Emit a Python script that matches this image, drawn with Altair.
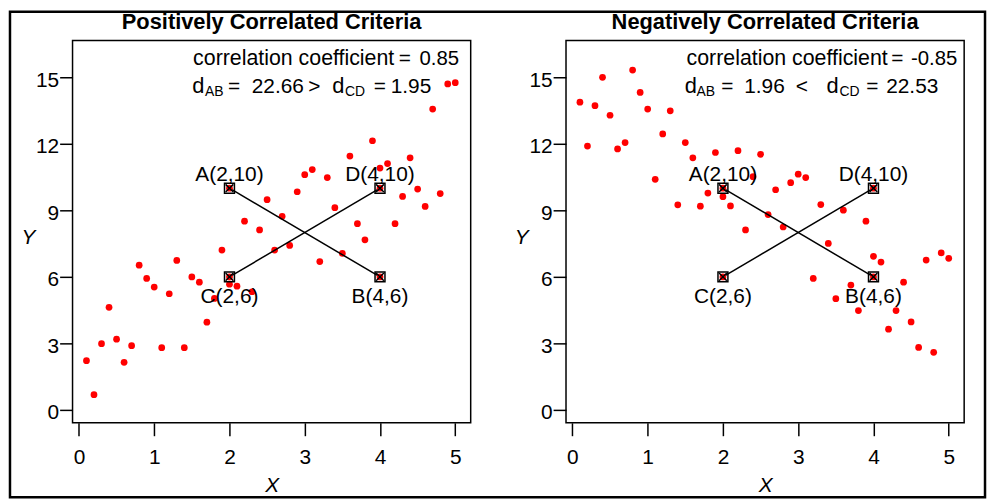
import altair as alt
import pandas as pd

# ---------------- data ----------------
X_VALUES = [0.1, 0.2, 0.3, 0.4, 0.5, 0.6, 0.7, 0.8, 0.9, 1.0,
            1.1, 1.2, 1.3, 1.4, 1.5, 1.6, 1.7, 1.8, 1.9, 2.0,
            2.1, 2.2, 2.3, 2.4, 2.5, 2.6, 2.7, 2.8, 2.9, 3.0,
            3.1, 3.2, 3.3, 3.4, 3.5, 3.6, 3.7, 3.8, 3.9, 4.0,
            4.1, 4.2, 4.3, 4.4, 4.5, 4.6, 4.7, 4.8, 4.9, 5.0]
POS_Y = [2.22, 0.69, 2.99, 4.63, 3.19, 2.15, 2.90, 6.53, 5.93, 5.54,
         2.81, 5.24, 6.74, 2.81, 6.00, 5.76, 3.96, 5.03, 7.21, 5.67,
         5.58, 8.51, 5.33, 8.12, 9.48, 7.21, 8.73, 7.42, 9.84, 10.61,
         10.84, 6.69, 10.48, 9.12, 7.06, 11.45, 8.40, 7.67, 12.14, 10.91,
         11.11, 8.40, 9.63, 11.37, 9.96, 9.18, 13.57, 9.76, 14.70, 14.76]
NEG_Y = [13.88, 11.90, 13.72, 15.00, 13.29, 11.77, 12.06, 15.33, 14.32, 13.57,
         10.40, 12.45, 13.49, 9.25, 12.06, 11.37, 9.19, 9.78, 11.61, 9.62,
         9.20, 11.69, 8.12, 10.52, 11.53, 8.81, 9.93, 8.25, 10.25, 10.63,
         10.48, 5.93, 9.26, 7.51, 5.02, 9.01, 5.63, 4.48, 8.51, 6.93,
         6.67, 3.64, 4.48, 5.76, 3.97, 2.82, 6.76, 2.60, 7.08, 6.84]

KEY_NAMES = ["A(2,10)", "B(4,6)", "C(2,6)", "D(4,10)"]
KEY_X = [2, 4, 2, 4]
KEY_Y = [10, 6, 6, 10]
KEY_SIDE = ["above", "below", "below", "above"]
SEG_FROM = ["A", "C"]
SEG_X = [2, 2]
SEG_Y = [10, 6]
SEG_X2 = [4, 4]
SEG_Y2 = [6, 10]

TITLES = ["Positively Correlated Criteria", "Negatively Correlated Criteria"]
X_TICKS = [0, 1, 2, 3, 4, 5]
Y_TICKS = [0, 3, 6, 9, 12, 15]

# annotation pieces (subscripts are separate, smaller pieces)
ANN_LEFT_TEXT = ["correlation coefficient", "=", "0.85",
                 "d", "AB", "=", "22.66", ">", "d", "CD", "=", "1.95"]
ANN_RIGHT_TEXT = ["correlation coefficient", "=", "-0.85",
                  "d", "AB", "=", "1.96", "<", "d", "CD", "=", "22.53"]

# ---------------- layout / style ----------------
FONT = "Liberation Sans"
W, H = 401, 385
XDOM = [-0.085, 5.205]
YDOM = [-0.58, 16.66]
RED = "#ff0000"
L1, L2, LSUB = 15.55, 14.30, 14.15
ANN_LEFT_X = [1.517, 4.248, 4.525, 1.504, 1.675, 1.979, 2.296, 3.047, 3.364, 3.536, 3.918, 4.142]
ANN_RIGHT_X = [1.517, 4.235, 4.499, 1.491, 1.649, 1.979, 2.282, 2.968, 3.377, 3.549, 3.905, 4.169]
ANN_Y = [L1, L1, L1, L2, LSUB, L2, L2, L2, L2, LSUB, L2, L2]
ANN_SIZE = [21.5, 21, 20.5, 22, 14, 21, 21, 21, 22, 14, 21, 21]


def xenc(field="x"):
    return alt.X(
        f"{field}:Q",
        scale=alt.Scale(domain=XDOM, nice=False, zero=False),
        axis=alt.Axis(values=X_TICKS, format="d", domain=False, grid=False,
                      tickSize=13, tickWidth=1.5, tickColor="black",
                      labelFont=FONT, labelFontSize=21, labelColor="black",
                      labelPadding=11, labelFlush=False,
                      title="X", titleFont=FONT, titleFontSize=21,
                      titleFontStyle="italic", titleFontWeight="normal",
                      titleColor="black", titleX=W / 2, titleY=69,
                      titleAlign="center", titleBaseline="alphabetic"),
    )


def yenc(field="y"):
    return alt.Y(
        f"{field}:Q",
        scale=alt.Scale(domain=YDOM, nice=False, zero=False),
        axis=alt.Axis(values=Y_TICKS, format="d", domain=False, grid=False,
                      tickSize=13, tickWidth=1.5, tickColor="black",
                      labelFont=FONT, labelFontSize=21, labelColor="black",
                      labelPadding=1, labelOffset=3, labelFlush=False,
                      title="Y", titleFont=FONT, titleFontSize=21,
                      titleFontStyle="italic", titleFontWeight="normal",
                      titleColor="black", titleAngle=0, titleX=-45, titleY=198,
                      titleAlign="center", titleBaseline="middle"),
    )


def panel(title, ys, ann_text, ann_x, with_border):
    pts = pd.DataFrame({"x": X_VALUES, "y": ys})
    keys = pd.DataFrame({"x": KEY_X, "y": KEY_Y, "name": KEY_NAMES, "side": KEY_SIDE})
    segs = pd.DataFrame({"seg": SEG_FROM, "x": SEG_X, "y": SEG_Y, "x2": SEG_X2, "y2": SEG_Y2})
    ann = pd.DataFrame({"text": ann_text, "x": ann_x, "y": ANN_Y, "fs": ANN_SIZE})
    one = pd.DataFrame({"t": [title]})

    dots = alt.Chart(pts).mark_circle(size=46, color=RED, opacity=1).encode(x=xenc(), y=yenc())
    lines = alt.Chart(segs).mark_rule(color="black", strokeWidth=1.5).encode(
        x=xenc(), y=yenc(), x2="x2:Q", y2="y2:Q")
    kdot = alt.Chart(keys).mark_circle(size=46, color=RED, opacity=1).encode(x=xenc(), y=yenc())
    ksq = alt.Chart(keys).mark_point(shape="square", size=100, filled=False,
                                     stroke="black", strokeWidth=1.5, opacity=1).encode(x=xenc(), y=yenc())
    kx = alt.Chart(keys).mark_point(shape="M-1,-1L1,1M-1,1L1,-1", size=60, filled=False,
                                    stroke="black", strokeWidth=1.5, opacity=1).encode(x=xenc(), y=yenc())
    lab_up = alt.Chart(keys).transform_filter(alt.datum.side == "above").mark_text(
        font=FONT, fontSize=21, color="black", align="center", baseline="alphabetic", dy=-7
    ).encode(x=xenc(), y=yenc(), text="name:N")
    lab_dn = alt.Chart(keys).transform_filter(alt.datum.side == "below").mark_text(
        font=FONT, fontSize=21, color="black", align="center", baseline="alphabetic", dy=26
    ).encode(x=xenc(), y=yenc(), text="name:N")
    annot = alt.Chart(ann).mark_text(font=FONT, color="black", align="left", baseline="alphabetic").encode(
        x=xenc(), y=yenc(), text="text:N", size=alt.Size("fs:Q", scale=None))
    ttl = alt.Chart(one).mark_text(font=FONT, fontSize=22, fontWeight="bold", color="black",
                                   align="center", baseline="top").encode(
        x=alt.value(W / 2), y=alt.value(-29), text="t:N")
    layers = [dots, lines, kdot, ksq, kx, lab_up, lab_dn, annot, ttl]
    if with_border:
        border = alt.Chart(one).mark_rect(filled=False, stroke="black", strokeWidth=2.5).encode(
            x=alt.value(-63), x2=alt.value(919), y=alt.value(-29), y2=alt.value(460))
        layers.append(border)
    return alt.layer(*layers).properties(width=W, height=H)


left = panel(TITLES[0], POS_Y, ANN_LEFT_TEXT, ANN_LEFT_X, True)
right = panel(TITLES[1], NEG_Y, ANN_RIGHT_TEXT, ANN_RIGHT_X, False)

chart = alt.hconcat(left, right, spacing=96, bounds="flush").configure(
    padding=0, background="white"
).configure_view(stroke="black", strokeWidth=1.5)

chart.save("out.html", embed_options={"renderer": "svg", "actions": False})
